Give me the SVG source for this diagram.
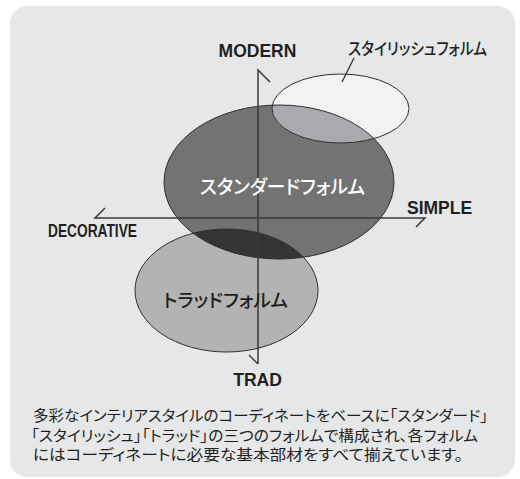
<svg xmlns="http://www.w3.org/2000/svg" width="520" height="479" viewBox="0 0 520 479">
  <style>
    .outline { fill: none; stroke: #2e2e2e; stroke-width: 1; }
    .axis { fill: none; stroke: #3a3a3a; stroke-width: 1.5; stroke-linecap: butt; }
    .lbl { font-family: "Liberation Sans", Arial, sans-serif; font-weight: bold; font-size: 17.5px; fill: #231f20; }
    .jp { font-family: "Noto Sans CJK JP", "Noto Sans", sans-serif; font-weight: 500; font-feature-settings: "palt" 1; }
    .para { font-family: "Liberation Serif", "Noto Sans CJK JP", serif; font-size: 15px; fill: #231f20; font-feature-settings: "palt" 1; }
  </style>
  <defs>
    <ellipse id="e-std" cx="279" cy="182" rx="115" ry="77"/>
    <ellipse id="e-sty" cx="340.5" cy="108.5" rx="68.5" ry="34.5"/>
    <ellipse id="e-trd" cx="226.5" cy="290.5" rx="91.5" ry="61.5"/>
    <clipPath id="clip-std"><use href="#e-std"/></clipPath>
  </defs>
  <rect width="520" height="479" fill="#ffffff"/>
  <rect x="10" y="6" width="505" height="471" rx="17" ry="17" fill="#e6e7e8"/>

  <g id="standard-form">
    <use href="#e-std" fill="#737373"/>
  </g>
  <g id="stylish-form">
    <use href="#e-sty" fill="#f1f2f4"/>
    <use href="#e-sty" fill="#a9aaad" clip-path="url(#clip-std)"/>
  </g>
  <g id="trad-form">
    <use href="#e-trd" fill="#b3b3b3"/>
    <use href="#e-trd" fill="#343434" clip-path="url(#clip-std)"/>
  </g>
  <g id="outlines">
    <use href="#e-std" class="outline"/>
    <use href="#e-sty" class="outline"/>
    <use href="#e-trd" class="outline"/>
  </g>

  <g id="connectors">
    <path class="axis" d="M258 364 V70 L270 82"/>
    <path class="axis" d="M249 355 L258 364"/>
    <path class="axis" d="M105 208 L95 218 H425 L416 227"/>
    <path class="outline" d="M354 58 L342 82" style="stroke-width:1.2"/>
  </g>

  <g id="label-modern"><text class="lbl" x="257.5" y="57" text-anchor="middle">MODERN</text></g>
  <g id="label-simple"><text class="lbl" x="407" y="214">SIMPLE</text></g>
  <g id="label-decorative"><text class="lbl" x="48" y="237" textLength="89" lengthAdjust="spacingAndGlyphs">DECORATIVE</text></g>
  <g id="label-trad"><text class="lbl" x="257.5" y="386" text-anchor="middle">TRAD</text></g>

  <g id="label-stylish"><text class="jp" x="348" y="54.5" font-size="16.5" fill="#231f20" textLength="139" lengthAdjust="spacingAndGlyphs">スタイリッシュフォルム</text></g>
  <g id="label-standard"><text class="jp" x="200" y="193.5" font-size="19" fill="#ffffff" textLength="165" lengthAdjust="spacingAndGlyphs">スタンダードフォルム</text></g>
  <g id="label-trad-form"><text class="jp" x="163" y="306.5" font-size="18.5" fill="#231f20" textLength="125" lengthAdjust="spacingAndGlyphs">トラッドフォルム</text></g>

  <g id="description">
    <text class="para" x="33" y="421" textLength="455" lengthAdjust="spacingAndGlyphs">多彩なインテリアスタイルのコーディネートをベースに「スタンダード」</text>
    <text class="para" x="31" y="440.5" textLength="447" lengthAdjust="spacingAndGlyphs">「スタイリッシュ」「トラッド」の三つのフォルムで構成され、各フォルム</text>
    <text class="para" x="33" y="460" textLength="430" lengthAdjust="spacingAndGlyphs">にはコーディネートに必要な基本部材をすべて揃えています。</text>
  </g>
</svg>
